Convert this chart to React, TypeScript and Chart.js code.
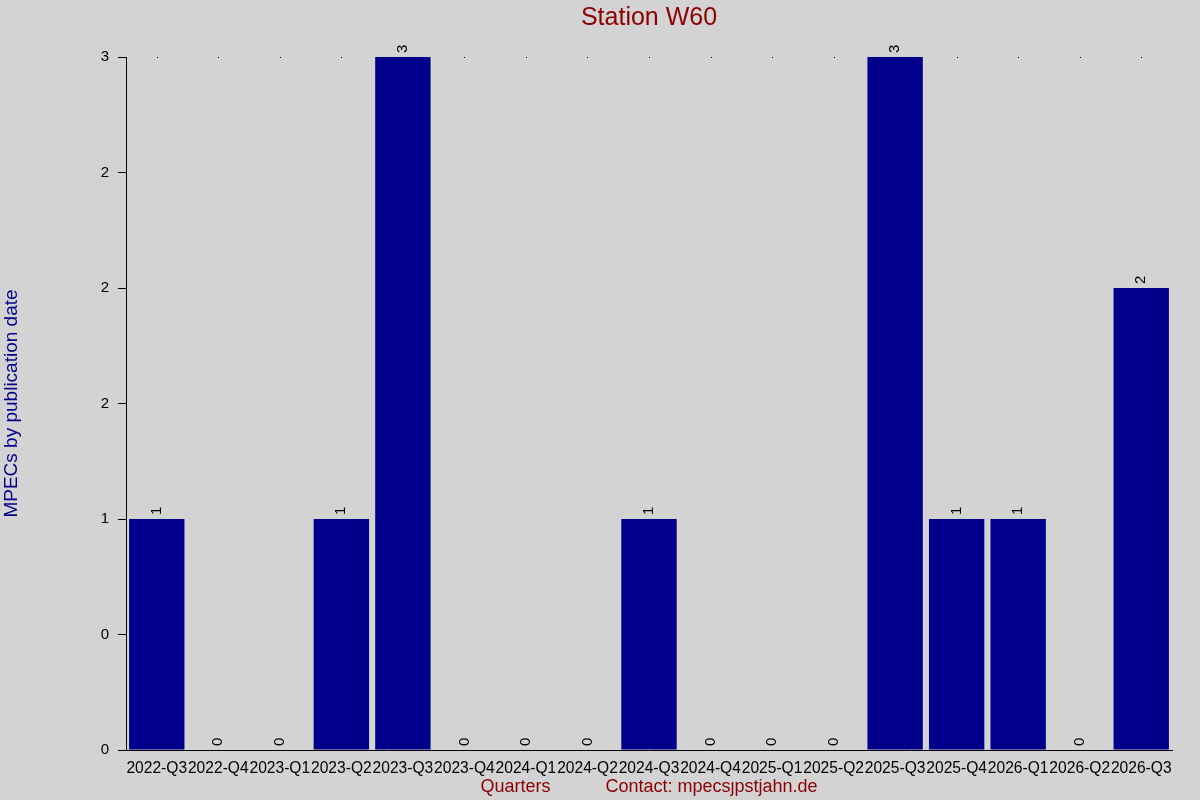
import { useEffect, useRef } from "react"
import { Chart, registerables } from "chart.js"

Chart.register(...registerables)

const quarters = [
  "2022-Q3", "2022-Q4", "2023-Q1", "2023-Q2", "2023-Q3", "2023-Q4",
  "2024-Q1", "2024-Q2", "2024-Q3", "2024-Q4", "2025-Q1", "2025-Q2",
  "2025-Q3", "2025-Q4", "2026-Q1", "2026-Q2", "2026-Q3",
]
const mpecCounts = [1, 0, 0, 1, 3, 0, 0, 0, 1, 0, 0, 0, 3, 1, 1, 0, 2]
// y tick labels as printed in the original (rounded half steps)
const yTickValues = [0, 0.5, 1, 1.5, 2, 2.5, 3]
const yTickLabels = ["0", "0", "1", "2", "2", "2", "3"]

const FONT = "'Liberation Sans', Arial, sans-serif"

// bar value labels, title and top dots
const decorPlugin = {
  id: "decor",
  afterDatasetsDraw(chart: any) {
    const { ctx, chartArea } = chart
    const meta = chart.getDatasetMeta(0)
    ctx.save()
    ctx.fillStyle = "#000"
    ctx.font = `15px ${FONT}`
    meta.data.forEach((bar: any, i: number) => {
      ctx.save()
      ctx.translate(bar.x, bar.y - 4)
      ctx.rotate(-Math.PI / 2)
      ctx.textAlign = "left"
      ctx.textBaseline = "middle"
      ctx.fillText(String(mpecCounts[i]), 0, 0)
      ctx.restore()
    })
    // dotted marks along top
    const xScale = chart.scales.x
    quarters.forEach((_, i) => {
      ctx.fillRect(Math.round(xScale.getPixelForValue(i)), chartArea.top, 1, 1)
    })
    // title
    ctx.fillStyle = "#8B0000"
    ctx.font = `25px ${FONT}`
    ctx.textAlign = "center"
    ctx.textBaseline = "middle"
    ctx.fillText("Station W60", (chartArea.left + chartArea.right) / 2, 18)
    ctx.restore()
  },
}

export default function App() {
  const chartRef = useRef<HTMLCanvasElement>(null)
  const chartInstance = useRef<Chart | null>(null)

  useEffect(() => {
    if (!chartRef.current) return
    if (chartInstance.current) chartInstance.current.destroy()
    const ctx = chartRef.current.getContext("2d")
    if (!ctx) return

    chartInstance.current = new Chart(ctx, {
      type: "bar",
      data: {
        labels: quarters,
        datasets: [
          {
            data: mpecCounts,
            backgroundColor: "#00008B",
            barPercentage: 0.9,
            categoryPercentage: 1.0,
          },
        ],
      },
      options: {
        animation: false,
        responsive: false,
        maintainAspectRatio: false,
        layout: { padding: { top: 57, right: 28, left: 0, bottom: 0 } },
        plugins: {
          legend: { display: false },
          tooltip: { enabled: false },
          title: { display: false },
        },
        scales: {
          x: {
            grid: { display: false },
            border: { color: "#000", width: 1 },
            ticks: {
              color: "#000",
              font: { family: FONT, size: 15.6 },
              maxRotation: 0,
              autoSkip: false,
              padding: 1,
            },
            title: {
              display: true,
              text: "Quarters           Contact: mpecsȷpstjahn.de",
              color: "#8B0000",
              font: { family: FONT, size: 18 },
              padding: { top: 0, bottom: 2 },
            },
            afterFit: (scale: any) => {
              scale.height = 50
            },
          },
          y: {
            min: 0,
            max: 3,
            afterBuildTicks: (scale: any) => {
              scale.ticks = yTickValues.map((v) => ({ value: v }))
            },
            grid: {
              drawOnChartArea: false,
              drawTicks: true,
              tickLength: 8,
              color: "#000",
            },
            border: { color: "#000", width: 1 },
            ticks: {
              color: "#000",
              font: { family: FONT, size: 15 },
              padding: 9,
              callback: (_v: any, i: number) => yTickLabels[i],
            },
            title: {
              display: true,
              text: "MPECs by publication date",
              color: "#00008B",
              font: { family: FONT, size: 19 },
              padding: { top: 0, bottom: 0 },
            },
            afterFit: (scale: any) => {
              scale.width = 126
            },
          },
        },
      },
      plugins: [decorPlugin],
    })

    return () => {
      if (chartInstance.current) chartInstance.current.destroy()
    }
  }, [])

  return (
    <div style={{ position: "absolute", left: 0, top: 0, width: 1200, height: 800, background: "#D3D3D3" }}>
      <canvas ref={chartRef} width={1200} height={800} />
    </div>
  )
}
